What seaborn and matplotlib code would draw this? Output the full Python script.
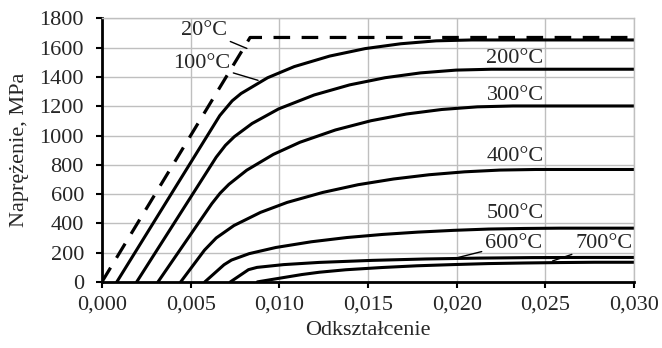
import numpy as np
import pandas as pd
import matplotlib
matplotlib.use('Agg')
import matplotlib.pyplot as plt
import seaborn as sns

# odkształcenie [-] / naprężenie [MPa]
eps_20 = [0.0, 0.00835, 0.030]
sig_20 = [0, 1670, 1670]

eps_100 = [0.00084, 0.00664, 0.00734, 0.00784, 0.00934, 0.01084, 0.01284, 0.01484, 0.01684, 0.01884, 0.02084, 0.030]
sig_100 = [0, 1136, 1237, 1287, 1395, 1471, 1543, 1594, 1627, 1647, 1653, 1653]

eps_200 = [0.00196, 0.00644, 0.00696, 0.00746, 0.00846, 0.00996, 0.01196, 0.01396, 0.01596, 0.01796, 0.01996, 0.02196, 0.030]
sig_200 = [0, 852, 933, 992, 1082, 1182, 1277, 1346, 1395, 1428, 1447, 1453, 1453]

eps_300 = [0.00316, 0.00619, 0.00666, 0.00716, 0.00816, 0.00966, 0.01116, 0.01316, 0.01516, 0.01716, 0.01916, 0.02116, 0.02316, 0.030]
sig_300 = [0, 534, 606, 667, 763, 871, 954, 1038, 1101, 1147, 1178, 1196, 1202, 1202]

eps_400 = [0.00444, 0.00578, 0.00644, 0.00744, 0.00894, 0.01044, 0.01244, 0.01444, 0.01644, 0.01844, 0.02044, 0.02244, 0.02444, 0.030]
sig_400 = [0, 217, 300, 385, 475, 543, 611, 664, 703, 732, 752, 764, 768, 768]

eps_500 = [0.0058, 0.00688, 0.0073, 0.0083, 0.0098, 0.0118, 0.0138, 0.0158, 0.0178, 0.0198, 0.0218, 0.0238, 0.0258, 0.030]
sig_500 = [0, 117, 149, 193, 235, 274, 303, 324, 340, 352, 361, 365, 367, 367]

eps_600 = [0.00724, 0.00826, 0.00874, 0.01024, 0.01224, 0.01524, 0.01824, 0.02124, 0.02424, 0.02724, 0.030]
sig_600 = [0, 83.5, 99, 118, 133, 147, 156.5, 162.5, 166, 167, 167]

eps_700 = [0.00876, 0.01126, 0.01226, 0.01376, 0.01576, 0.01776, 0.01976, 0.02176, 0.02376, 0.02576, 0.02776, 0.030]
sig_700 = [0, 50, 66, 83, 98, 110, 118, 125, 129, 132, 134, 134]

x_ticks = [0.000, 0.005, 0.010, 0.015, 0.020, 0.025, 0.030]
x_ticklabels = ['0,000', '0,005', '0,010', '0,015', '0,020', '0,025', '0,030']
y_ticks = [0, 200, 400, 600, 800, 1000, 1200, 1400, 1600, 1800]

curves = {
    '100°C': (eps_100, sig_100),
    '200°C': (eps_200, sig_200),
    '300°C': (eps_300, sig_300),
    '400°C': (eps_400, sig_400),
    '500°C': (eps_500, sig_500),
    '600°C': (eps_600, sig_600),
    '700°C': (eps_700, sig_700),
}
df = pd.concat([pd.DataFrame({'eps': e, 'sig': s, 'temp': t}) for t, (e, s) in curves.items()],
               ignore_index=True)
df20 = pd.DataFrame({'eps': eps_20, 'sig': sig_20})

sns.set_style('white')
plt.rcParams['font.family'] = ['Liberation Serif', 'DejaVu Serif']
FS = 16
plt.rcParams['font.size'] = FS

fig = plt.figure(figsize=(6.62, 3.48), dpi=100)
ax = fig.add_axes([0.154, 0.190, 0.804, 0.757])

grid_c = '#bfbfbf'
ax.grid(True, color=grid_c, lw=1.0)
ax.set_axisbelow(True)

sns.lineplot(data=df, x='eps', y='sig', units='temp', estimator=None, sort=False,
             color='black', lw=2.2, ax=ax)
sns.lineplot(data=df20, x='eps', y='sig', estimator=None, sort=False,
             color='black', lw=2.3, dashes=False, ax=ax)
ax.lines[-1].set_dashes((5.2, 3.6))
ax.lines[-1].set_dash_capstyle('butt')

ax.set_xlim(0, 0.030)
ax.set_ylim(0, 1800)
ax.set_xticks(x_ticks)
ax.set_xticklabels(x_ticklabels)
ax.set_yticks(y_ticks)

for s in ['top', 'right']:
    ax.spines[s].set_color(grid_c)
    ax.spines[s].set_linewidth(1.0)
for s in ['left', 'bottom']:
    ax.spines[s].set_color('black')
    ax.spines[s].set_linewidth(2.0)
ax.tick_params(axis='both', which='major', direction='out', length=4, width=1.5,
               color='black', labelsize=FS)
ax.tick_params(axis='y', pad=9)
ax.tick_params(axis='x', pad=6)
ax.tick_params(bottom=True, left=True)

ax.set_xlabel('Odkształcenie', fontsize=FS)
ax.set_ylabel('Naprężenie, MPa', fontsize=FS)
ax.xaxis.set_label_coords(0.5, -0.15)
ax.yaxis.set_label_coords(-0.137, 0.5)

# opisy krzywych
lead = dict(arrowstyle='-', color='black', lw=1.0, shrinkA=0, shrinkB=0)
ax.annotate('20°C', xy=(0.00817, 1595), xytext=(0.00705, 1718), ha='right', va='center',
            fontsize=FS, arrowprops=lead)
ax.annotate('100°C', xy=(0.0088, 1377), xytext=(0.00722, 1493), ha='right', va='center',
            fontsize=FS, arrowprops=lead)
for t, y in [('200°C', 1524), ('300°C', 1274), ('400°C', 858), ('500°C', 469)]:
    ax.text(0.0249, y, t, ha='right', va='center', fontsize=FS)
ax.annotate('600°C', xy=(0.02009, 167), xytext=(0.02159, 262), ha='left', va='center',
            fontsize=FS, arrowprops=lead)
ax.annotate('700°C', xy=(0.0254, 143), xytext=(0.02667, 262), ha='left', va='center',
            fontsize=FS, arrowprops=lead)

fig.savefig('out.png', dpi=100)
